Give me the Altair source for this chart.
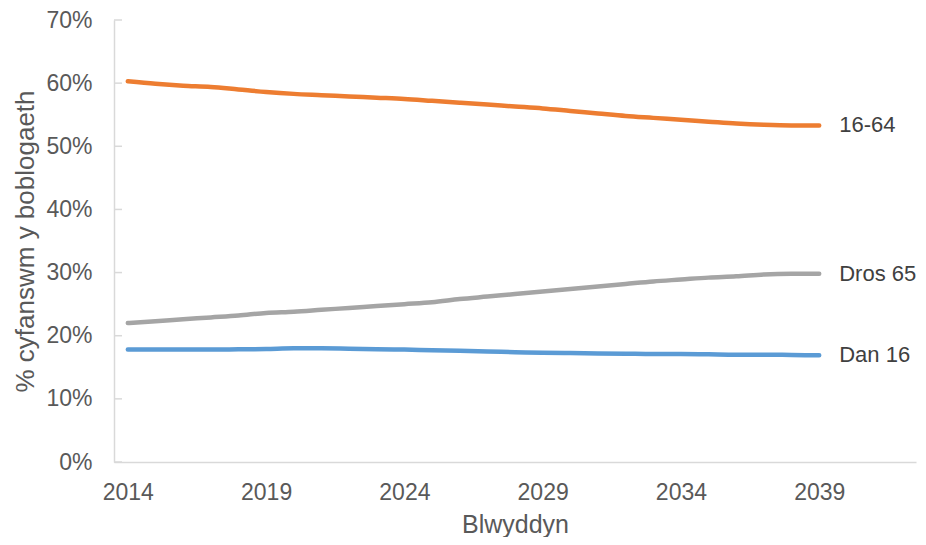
import altair as alt
import pandas as pd

years = list(range(2014, 2040))
dan16 = [17.8, 17.8, 17.8, 17.8, 17.85, 17.9, 18.0, 18.0, 17.95, 17.85, 17.8, 17.7, 17.6,
         17.5, 17.4, 17.3, 17.25, 17.2, 17.15, 17.1, 17.1, 17.05, 17.0, 17.0, 16.95, 16.9]
age16_64 = [60.3, 59.9, 59.6, 59.4, 59.0, 58.6, 58.3, 58.1, 57.9, 57.7, 57.5, 57.2, 56.9,
            56.6, 56.3, 56.0, 55.6, 55.2, 54.8, 54.5, 54.2, 53.9, 53.6, 53.4, 53.3, 53.3]
dros65 = [22.0, 22.3, 22.6, 22.9, 23.2, 23.6, 23.8, 24.1, 24.4, 24.7, 25.0, 25.3, 25.8,
          26.2, 26.6, 27.0, 27.4, 27.8, 28.2, 28.6, 28.9, 29.2, 29.4, 29.7, 29.8, 29.8]
series_names = ["Dan 16", "16-64", "Dros 65"]
series_colors = ["#5B9BD5", "#ED7D31", "#A5A5A5"]
x_ticks = [2014, 2019, 2024, 2029, 2034, 2039]
y_ticks = [0.0, 0.1, 0.2, 0.3, 0.4, 0.5, 0.6, 0.7]

rows = []
for name, vals in zip(series_names, [dan16, age16_64, dros65]):
    for yr, v in zip(years, vals):
        rows.append({"Blwyddyn": yr, "value": v / 100.0, "series": name})
df = pd.DataFrame(rows)
last = df[df["Blwyddyn"] == years[-1]]
ticks_df = pd.DataFrame({"t": y_ticks})

FONT = "Liberation Sans"
AX = "#D9D9D9"
TXT = "#595959"

xscale = alt.Scale(domain=[2013.5, 2042.5], nice=False, zero=False)
yscale = alt.Scale(domain=[0, 0.7], nice=False, zero=True)

x = alt.X("Blwyddyn:Q", scale=xscale,
          axis=alt.Axis(values=x_ticks, format="d", title="Blwyddyn", grid=False, ticks=False,
                        labelFlush=False, labelPadding=19, titlePadding=8,
                        domainColor=AX, domainWidth=1.5,
                        labelFontSize=23, titleFontSize=25, labelColor=TXT, titleColor=TXT,
                        labelFont=FONT, titleFont=FONT, titleFontWeight="normal"))
y = alt.Y("value:Q", scale=yscale,
          axis=alt.Axis(values=y_ticks, format=".0%", title="% cyfanswm y boblogaeth",
                        grid=False, ticks=False, labelFlush=False, labelPadding=22, titlePadding=7,
                        domainColor=AX, domainWidth=1.5,
                        labelFontSize=23, titleFontSize=26, labelColor=TXT, titleColor=TXT,
                        labelFont=FONT, titleFont=FONT, titleFontWeight="normal"))
color = alt.Color("series:N", scale=alt.Scale(domain=series_names, range=series_colors), legend=None)

lines = alt.Chart(df).mark_line(strokeWidth=4.5, strokeCap="round", interpolate="monotone").encode(
    x=x, y=y, color=color)

labels = alt.Chart(last).mark_text(align="left", baseline="middle", dx=20, fontSize=22,
                                   font=FONT, color="#404040").encode(
    x=alt.X("Blwyddyn:Q", scale=xscale),
    y=alt.Y("value:Q", scale=yscale),
    text="series:N")

inward_ticks = alt.Chart(ticks_df).mark_rule(color=AX, strokeWidth=1.5).encode(
    y=alt.Y("t:Q", scale=yscale), x=alt.value(0), x2=alt.value(8))

chart = alt.layer(inward_ticks, lines, labels).properties(
    width=802, height=442,
    autosize=alt.AutoSizeParams(type="none"),
    padding={"left": 106, "top": 12, "right": 2, "bottom": 75},
).configure_view(stroke=None)

chart.save("out.html", embed_options={"renderer": "svg", "actions": False})
